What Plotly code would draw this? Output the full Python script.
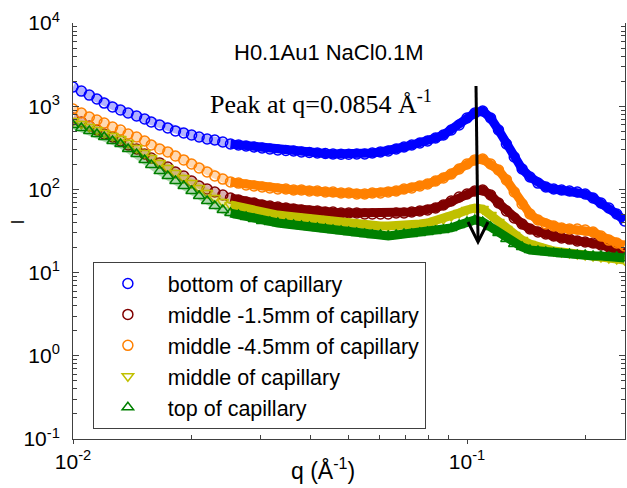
import plotly.graph_objects as go

# q values (Å^-1)
q = [0.0100, 0.0105, 0.0110, 0.0115, 0.0120, 0.0126, 0.0132, 0.0138, 0.0145, 0.0152,
     0.0158, 0.0166, 0.0174, 0.0182, 0.0191, 0.0200, 0.0209, 0.0219, 0.0229, 0.0240,
     0.0251, 0.0263, 0.0275, 0.0288, 0.0302, 0.0316, 0.0331, 0.0347, 0.0363, 0.0380,
     0.0398, 0.0417, 0.0437, 0.0457, 0.0479, 0.0501, 0.0525, 0.0550, 0.0575, 0.0603,
     0.0631, 0.0661, 0.0692, 0.0724, 0.0759, 0.0794, 0.0832, 0.0871, 0.0912, 0.0955,
     0.1000, 0.1047, 0.1096, 0.1148, 0.1202, 0.1259, 0.1318, 0.1380, 0.1445, 0.1514,
     0.1585, 0.1660, 0.1738, 0.1820, 0.1905, 0.1995, 0.2089, 0.2188, 0.2291, 0.2399,
     0.2512]

I_bottom = [1700, 1520, 1360, 1220, 1090, 978, 900, 828, 762, 702,
            646, 594, 547, 503, 476, 451, 426, 404, 393, 371,
            351, 342, 332, 323, 315, 306, 298, 294, 289, 282,
            278, 274, 270, 266, 265, 265, 266, 267, 274, 282,
            289, 306, 323, 342, 361, 382, 415, 451, 518, 594,
            721, 828, 876, 721, 518, 351, 245, 176, 141, 119,
            107, 101, 98.3, 95.7, 93.0, 88.0, 78.8, 68.6, 59.8, 50.6,
            41.7]

I_mid_m15 = [721, 646, 578, 518, 463, 426, 382, 342, 306, 266,
             238, 208, 186, 162, 145, 126, 110, 101, 93.0, 85.6,
             78.8, 74.6, 70.6, 68.6, 64.9, 63.2, 61.4, 59.8, 58.1, 56.6,
             55.0, 55.0, 53.5, 53.5, 52.0, 52.0, 52.0, 50.6, 50.6, 50.6,
             50.6, 52.0, 52.0, 53.5, 55.0, 56.6, 59.8, 64.9, 72.6, 81.0,
             88.0, 95.7, 98.3, 85.6, 68.6, 55.0, 45.3, 38.4, 33.4, 30.8,
             29.1, 27.5, 26.1, 25.3, 24.0, 23.3, 22.7, 21.5, 20.3, 18.7,
             17.2]

I_mid_m45 = [925, 828, 742, 683, 628, 562, 518, 463, 426, 382,
             342, 306, 282, 252, 226, 202, 181, 162, 145, 133,
             123, 119, 113, 110, 107, 104, 101, 101, 98.3, 98.3,
             95.7, 95.7, 93.0, 93.0, 90.5, 90.5, 88.0, 88.0, 90.5, 90.5,
             93.0, 95.7, 101, 104, 110, 116, 126, 137, 153, 176,
             202, 226, 232, 202, 171, 130, 93.0, 66.8, 50.6, 42.9,
             38.4, 36.3, 34.4, 33.4, 33.4, 32.5, 30.8, 27.5, 24.6, 22.7,
             20.9]

I_middle = [664, 611, 562, 518, 476, 438, 404, 361, 315, 274,
            238, 208, 181, 157, 137, 119, 104, 90.5, 78.8, 70.6,
            64.9, 61.4, 58.1, 55.0, 52.0, 50.6, 49.2, 47.9, 46.6, 45.3,
            44.1, 42.9, 41.7, 40.6, 39.5, 38.4, 38.4, 37.3, 36.3, 36.3,
            36.3, 36.3, 37.3, 37.3, 38.4, 39.5, 41.7, 44.1, 47.9, 52.0,
            56.6, 59.8, 58.1, 49.2, 40.6, 33.4, 28.3, 24.6, 22.1, 20.3,
            19.2, 18.2, 17.7, 17.2, 16.7, 16.3, 15.8, 15.4, 15.0, 14.6,
            14.2]

I_top = [594, 547, 503, 463, 426, 382, 351, 306, 266, 226,
         197, 166, 145, 126, 110, 95.7, 83.3, 72.6, 63.2, 56.6,
         52.0, 49.2, 46.6, 44.1, 41.7, 40.6, 39.5, 38.4, 37.3, 36.3,
         35.3, 34.4, 33.4, 32.5, 31.6, 30.8, 29.9, 29.1, 28.3, 28.3,
         27.5, 28.3, 29.1, 29.1, 29.9, 30.8, 31.6, 32.5, 34.4, 37.3,
         40.6, 42.9, 40.6, 35.3, 29.9, 25.3, 22.1, 20.3, 18.7, 18.2,
         17.7, 17.2, 16.7, 16.7, 16.3, 16.3, 15.8, 15.8, 15.4, 15.4,
         15.0]

x_ticks = [0.01, 0.1]
x_ticktext = ["10<sup>-2</sup>", "10<sup>-1</sup>"]
y_ticks = [0.1, 1, 10, 100, 1000, 10000]
y_ticktext = ["10<sup>-1</sup>", "10<sup>0</sup>", "10<sup>1</sup>",
              "10<sup>2</sup>", "10<sup>3</sup>", "10<sup>4</sup>"]

series = [
    ("bottom of capillary", I_bottom, "circle-open", "#0000ff"),
    ("middle -1.5mm of capillary", I_mid_m15, "circle-open", "#800000"),
    ("middle -4.5mm of capillary", I_mid_m45, "circle-open", "#ff8000"),
    ("middle of capillary", I_middle, "triangle-down-open", "#c0c000"),
    ("top of capillary", I_top, "triangle-up-open", "#008000"),
]

BAND_START = 20  # from here the dense measured points merge into a solid band

fig = go.Figure()
for name, vals, sym, col in series:
    # faint band where the overlapping rings are still distinguishable
    fig.add_trace(go.Scatter(
        x=q[:BAND_START + 1], y=vals[:BAND_START + 1], mode="lines", showlegend=False,
        hoverinfo="skip", opacity=0.3, line=dict(color=col, width=8),
    ))
    # solid band where the points overlap completely
    fig.add_trace(go.Scatter(
        x=q[BAND_START:], y=vals[BAND_START:], mode="lines", showlegend=False,
        hoverinfo="skip", line=dict(color=col, width=9),
    ))
    fig.add_trace(go.Scatter(
        x=q, y=vals, name=name, mode="markers",
        marker=dict(symbol=sym, size=10, color=col, line=dict(color=col, width=1.5)),
    ))

AX = "#404040"
FONT = "Liberation Sans, Arial, sans-serif"

def minor_vals(lo, hi):
    out = []
    for e in range(lo, hi):
        for m in range(2, 10):
            out.append(m * 10 ** e)
    return out

fig.update_layout(
    width=627, height=488,
    margin=dict(l=73, r=2, t=23, b=49),
    paper_bgcolor="white", plot_bgcolor="white",
    font=dict(family=FONT, size=21, color="black"),
    showlegend=True,
    legend=dict(x=0.036, y=0.4255, xanchor="left", yanchor="top",
                bordercolor=AX, borderwidth=1, bgcolor="rgba(255,255,255,0)",
                font=dict(family=FONT, size=21.5, color="black"),
                itemwidth=70, indentation=-6),
    xaxis=dict(type="log", range=[-2, -0.599], tickmode="array",
               tickvals=x_ticks, ticktext=x_ticktext, automargin=False,
               showgrid=False, zeroline=False,
               showline=True, linecolor=AX, linewidth=1, mirror=False,
               ticks="outside", ticklen=4, tickcolor=AX,
               minor=dict(ticks="inside", ticklen=4, tickcolor=AX,
                          tickmode="array", tickvals=minor_vals(-2, 0), showgrid=False),
               tickfont=dict(family=FONT, size=21)),
    xaxis2=dict(type="log", range=[-1.9953, -0.7116], overlaying="x", side="top",
                anchor="y", tickmode="array", tickvals=[0.01, 0.1], automargin=False,
                showticklabels=False, showgrid=False, zeroline=False,
                showline=True, linecolor=AX, linewidth=1,
                ticks="inside", ticklen=6, tickcolor=AX,
                minor=dict(ticks="inside", ticklen=4, tickcolor=AX,
                           tickmode="array", tickvals=minor_vals(-2, 0), showgrid=False)),
    yaxis=dict(type="log", range=[-1, 4], tickmode="array",
               tickvals=y_ticks, ticktext=y_ticktext, automargin=False,
               showgrid=False, zeroline=False,
               showline=True, linecolor=AX, linewidth=1, mirror="ticks",
               ticks="inside", ticklen=6, tickcolor=AX,
               minor=dict(ticks="inside", ticklen=4, tickcolor=AX,
                          tickmode="array", tickvals=minor_vals(-1, 4), showgrid=False),
               tickfont=dict(family=FONT, size=21), ticklabelstandoff=8),
)

annotations = [
    dict(text="H0.1Au1 NaCl0.1M", x=0.4638, y=0.928, xref="paper", yref="paper",
         xanchor="center", yanchor="middle", showarrow=False,
         font=dict(family=FONT, size=22, color="black")),
    dict(text="Peak at q=0.0854 Å<sup>-1</sup>", x=0.2446, y=0.81, xref="paper", yref="paper",
         xanchor="left", yanchor="middle", showarrow=False,
         font=dict(family="Liberation Serif, Times New Roman, serif", size=26, color="black")),
    dict(text="q (Å<sup>-1</sup>)", x=0.4529, y=-0.072, xref="paper", yref="paper",
         xanchor="center", yanchor="middle", showarrow=False,
         font=dict(family=FONT, size=23, color="black")),
    dict(text="I", x=-0.1005, y=0.5216, xref="paper", yref="paper", textangle=-90,
         xanchor="center", yanchor="middle", showarrow=False,
         font=dict(family=FONT, size=18, color="black")),
]
fig.update_layout(annotations=annotations)

# downward arrow marking the peak
fig.add_shape(type="line", xref="paper", yref="paper",
              x0=0.7301, y0=0.8486, x1=0.7337, y1=0.4784,
              line=dict(color="black", width=3))
fig.add_shape(type="path", xref="paper", yref="paper",
              path="M 0.7156 0.5216 L 0.7337 0.4736 L 0.7518 0.5216",
              line=dict(color="black", width=3))

fig.write_html("out.html",
               config={"displayModeBar": False},
               post_script="document.body.style.margin='0px';document.body.style.overflow='hidden';")
